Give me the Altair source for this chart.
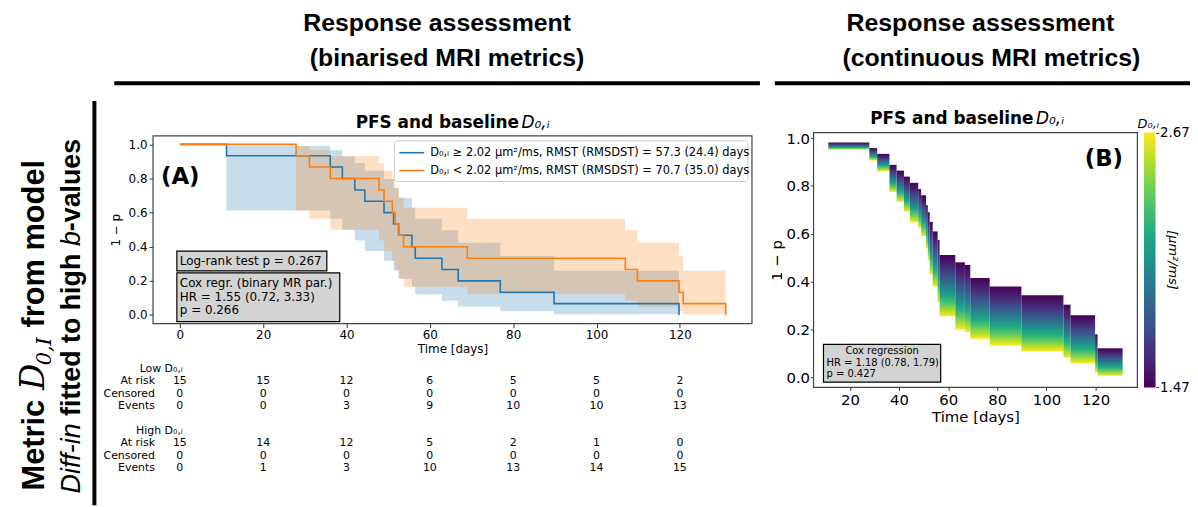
import altair as alt
import pandas as pd

# ------------------------------------------------------------------ data
# Panel A - Kaplan-Meier, high D0,I group (blue)
high_t = [0, 11.2, 36.1, 39.0, 42.0, 44.4, 49.0, 51.3, 52.5, 55.7, 56.5, 62.9, 66.8, 76.9, 89.8, 119.8]
high_s = [1.0, 0.933, 0.867, 0.800, 0.733, 0.667, 0.600, 0.533, 0.467, 0.400, 0.333, 0.267, 0.200, 0.133, 0.067, 0.0]
high_lo = [1.0, 0.613, 0.564, 0.500, 0.436, 0.375, 0.318, 0.263, 0.212, 0.165, 0.122, 0.083, 0.049, 0.022, 0.004]
high_hi = [1.0, 0.990, 0.965, 0.931, 0.891, 0.846, 0.797, 0.744, 0.687, 0.628, 0.564, 0.496, 0.424, 0.346, 0.260]
# low D0,I group (orange)
low_t = [0, 27.9, 31.1, 36.1, 47.8, 49.0, 51.0, 51.7, 52.6, 53.7, 69.0, 106.9, 109.8, 119.8, 120.8, 131.0]
low_s = [1.0, 0.933, 0.867, 0.800, 0.733, 0.667, 0.600, 0.533, 0.467, 0.400, 0.333, 0.267, 0.200, 0.133, 0.067, 0.0]
low_lo = [1.0, 0.613, 0.564, 0.500, 0.436, 0.375, 0.318, 0.263, 0.212, 0.165, 0.122, 0.083, 0.049, 0.022, 0.004]
low_hi = [1.0, 0.990, 0.965, 0.931, 0.891, 0.846, 0.797, 0.744, 0.687, 0.628, 0.564, 0.496, 0.424, 0.346, 0.260]

# risk table
table_t = [0, 20, 40, 60, 80, 100, 120]
low_at_risk = [15, 15, 12, 6, 5, 5, 2]
low_censored = [0, 0, 0, 0, 0, 0, 0]
low_events = [0, 0, 3, 9, 10, 10, 13]
high_at_risk = [15, 14, 12, 5, 2, 1, 0]
high_censored = [0, 0, 0, 0, 0, 0, 0]
high_events = [0, 1, 3, 10, 13, 14, 15]

# Panel B - Cox model survival band (top = D0,I 1.47, bottom = D0,I 2.67)
b_start = [11.2, 27.9, 31.1, 36.1, 39.0, 42.0, 44.4, 47.8, 49.0, 51.0, 51.7, 52.5, 53.7, 55.7,
           56.5, 62.9, 66.8, 69.0, 76.9, 89.8, 106.9, 109.8, 119.8, 120.8]
b_last = 131.0
b_top = [0.981, 0.958, 0.934, 0.888, 0.864, 0.839, 0.813, 0.787, 0.761, 0.719, 0.690, 0.650, 0.610, 0.574,
         0.512, 0.481, 0.470, 0.415, 0.380, 0.343, 0.304, 0.260, 0.180, 0.122]
b_bot = [0.951, 0.906, 0.862, 0.775, 0.734, 0.693, 0.648, 0.625, 0.590, 0.540, 0.490, 0.430, 0.380, 0.314,
         0.256, 0.200, 0.190, 0.162, 0.134, 0.110, 0.083, 0.059, 0.021, 0.007]
cbar_min, cbar_max = 1.47, 2.67

# ------------------------------------------------------------------ layout helpers
W, H = 1182, 491
M = 8


def P(v):
    return v - M


one = pd.DataFrame({"k": [0]})
FONT = "DejaVu Sans"
HEAD = "Liberation Sans"
SERIF = "DejaVu Serif"


def text(s, x, y, size=12, weight="normal", angle=0, align="center", baseline="middle",
         font=FONT, style="normal", color="black"):
    return alt.Chart(one).mark_text(
        text=s, fontSize=size, fontWeight=weight, angle=angle, align=align,
        baseline=baseline, font=font, fontStyle=style, color=color
    ).encode(x=alt.value(P(x)), y=alt.value(P(y)))


def box(x1, y1, x2, y2, fill="white", fill_opacity=1.0, stroke="black", sw=1.0, radius=0):
    return alt.Chart(one).mark_rect(
        fill=fill, fillOpacity=fill_opacity, stroke=stroke, strokeWidth=sw, cornerRadius=radius
    ).encode(x=alt.value(P(x1)), x2=alt.value(P(x2)), y=alt.value(P(y1)), y2=alt.value(P(y2)))


def rule(x1, y1, x2, y2, color="black", sw=4):
    return alt.Chart(one).mark_rule(color=color, strokeWidth=sw).encode(
        x=alt.value(P(x1)), x2=alt.value(P(x2)), y=alt.value(P(y1)), y2=alt.value(P(y2)))


def vrun(s, x, y, size, font=HEAD, style="normal", weight="bold"):
    # rotated (bottom-to-top) run of text starting at y
    return text(s, x, y, size=size, weight=weight, angle=270, align="left",
                baseline="alphabetic", font=font, style=style)


# ------------------------------------------------------------------ scales & axes
xA = alt.Scale(domain=[-6.43, 137.3], range=[P(154), P(757)], nice=False, zero=False)
yA = alt.Scale(domain=[-0.05, 1.05], range=[P(324), P(135)], nice=False, zero=False)
xB = alt.Scale(domain=[5.2, 137.0], range=[P(819), P(1145)], nice=False, zero=False)
yB = alt.Scale(domain=[-0.0415, 1.023], range=[P(388.3), P(131.7)], nice=False, zero=False)
yC = alt.Scale(domain=[cbar_min, cbar_max], range=[P(388.3), P(131.7)], nice=False, zero=False)
yR = alt.Scale(domain=[0, 8], range=[P(369.5), P(469.5)], nice=False, zero=False)

common = dict(grid=False, domain=False, tickColor="#333", labelColor="black", titleColor="black",
              labelFont=FONT, titleFont=FONT, titleFontWeight="normal", labelFlush=False,
              labelOverlap=False)
axAx = alt.Axis(orient="bottom", offset=P(324) - H, values=table_t, format="d", tickSize=4,
                labelFontSize=12, labelPadding=2, title="Time [days]", titleFontSize=12,
                titlePadding=3, **common)
axAy = alt.Axis(orient="left", offset=-P(154), values=[0, 0.2, 0.4, 0.6, 0.8, 1.0], format=".1f",
                tickSize=4, labelFontSize=12, labelPadding=2, title="1 − p", titleFontSize=12,
                titlePadding=6, **common)
axBx = alt.Axis(orient="bottom", offset=P(388.3) - H, values=[20, 40, 60, 80, 100, 120], format="d",
                tickSize=3, labelFontSize=15, labelPadding=2, title="Time [days]", titleFontSize=15,
                titlePadding=2, **common)
axBy = alt.Axis(orient="left", offset=-P(819), values=[0, 0.2, 0.4, 0.6, 0.8, 1.0], format=".1f",
                tickSize=3, labelFontSize=15, labelPadding=1, title="1 − p", titleFontSize=15,
                titlePadding=1, **common)
axC = alt.Axis(orient="right", offset=P(1163.3) - W, values=[cbar_min, cbar_max], format=".2f",
               tickSize=3, labelFontSize=13.5, labelPadding=1, title=None, **common)

# ------------------------------------------------------------------ data frames
def band_df(t, lo, hi):
    n = len(t) - 1
    rows = [{"t": t[i], "lo": lo[i], "hi": hi[i]} for i in range(1, n)]
    rows.append({"t": t[n], "lo": lo[n - 1], "hi": hi[n - 1]})
    return pd.DataFrame(rows)


band_high = band_df(high_t, high_lo, high_hi)
band_low = band_df(low_t, low_lo, low_hi)
line_high = pd.DataFrame({"t": high_t, "s": high_s})
line_low = pd.DataFrame({"t": low_t, "s": low_s})

table_rows = []
for r, vals in [(1, low_at_risk), (2, low_censored), (3, low_events),
                (6, high_at_risk), (7, high_censored), (8, high_events)]:
    for t, v in zip(table_t, vals):
        table_rows.append({"t": t, "row": r, "val": str(v)})
table_df = pd.DataFrame(table_rows)
row_labels = pd.DataFrame({"row": [1, 2, 3, 6, 7, 8],
                           "label": ["At risk", "Censored", "Events"] * 2})
group_labels = pd.DataFrame({"row": [0, 5], "label": ["Low D₀,ᵢ", "High D₀,ᵢ"]})

b_df = pd.DataFrame({"t0": b_start, "t1": b_start[1:] + [b_last], "top": b_top, "bot": b_bot})
cbar_df = pd.DataFrame({"lo": [cbar_min], "hi": [cbar_max]})

viridis = ["#440154", "#482475", "#414487", "#355f8d", "#2a788e", "#21918c",
           "#22a884", "#44bf70", "#7ad151", "#bddf26", "#fde725"]
# inside the band the high-D0,I (yellow) curves are bunched towards the bottom edge
grad_down = alt.Gradient(gradient="linear", x1=0, x2=0, y1=0, y2=1,
                         stops=[alt.GradientStop(color=c, offset=(i / 10) ** 0.75)
                                for i, c in enumerate(viridis)])
grad_up = alt.Gradient(gradient="linear", x1=0, x2=0, y1=0, y2=1,
                       stops=[alt.GradientStop(color=c, offset=i / 10) for i, c in enumerate(viridis[::-1])])

BLUE, ORANGE = "#1f77b4", "#ff7f0e"

# ------------------------------------------------------------------ panel A
a_band_high = alt.Chart(band_high).mark_area(interpolate="step-after", color=BLUE, opacity=0.25,
                                             orient="vertical").encode(
    x=alt.X("t:Q", scale=xA, axis=axAx), y=alt.Y("lo:Q", scale=yA, axis=axAy), y2="hi:Q")
a_band_low = alt.Chart(band_low).mark_area(interpolate="step-after", color=ORANGE, opacity=0.25,
                                           orient="vertical").encode(
    x=alt.X("t:Q", scale=xA, axis=None), y=alt.Y("lo:Q", scale=yA, axis=None), y2="hi:Q")
a_line_high = alt.Chart(line_high).mark_line(interpolate="step-after", color=BLUE, strokeWidth=1.6).encode(
    x=alt.X("t:Q", scale=xA, axis=None), y=alt.Y("s:Q", scale=yA, axis=None))
a_line_low = alt.Chart(line_low).mark_line(interpolate="step-after", color=ORANGE, strokeWidth=1.6).encode(
    x=alt.X("t:Q", scale=xA, axis=None), y=alt.Y("s:Q", scale=yA, axis=None))

a_table = alt.Chart(table_df).mark_text(fontSize=11, font=FONT, color="black").encode(
    x=alt.X("t:Q", scale=xA, axis=None), y=alt.Y("row:Q", scale=yR, axis=None), text="val:N")
a_rowlab = alt.Chart(row_labels).mark_text(fontSize=11, font=FONT, align="right", color="black").encode(
    x=alt.value(P(156)), y=alt.Y("row:Q", scale=yR, axis=None), text="label:N")
a_grplab = alt.Chart(group_labels).mark_text(fontSize=11, font=FONT, align="right", color="black").encode(
    x=alt.value(P(184)), y=alt.Y("row:Q", scale=yR, axis=None), text="label:N")

# ------------------------------------------------------------------ panel B
b_rects = alt.Chart(b_df).mark_rect(fill=grad_down, strokeWidth=0).encode(
    x=alt.X("t0:Q", scale=xB, axis=axBx), x2="t1:Q",
    y=alt.Y("bot:Q", scale=yB, axis=axBy), y2="top:Q")
c_bar = alt.Chart(cbar_df).mark_rect(fill=grad_up, strokeWidth=0).encode(
    x=alt.value(P(1151.7)), x2=alt.value(P(1163.3)),
    y=alt.Y("lo:Q", scale=yC, axis=axC), y2="hi:Q")

layers = [
    # headers
    text("Response assessment", 440, 21, size=25, weight="bold", font=HEAD),
    text("(binarised MRI metrics)", 450, 57, size=25, weight="bold", font=HEAD),
    text("Response assessment", 987, 21, size=25, weight="bold", font=HEAD),
    text("(continuous MRI metrics)", 998, 57, size=25, weight="bold", font=HEAD),
    rule(115, 82, 765, 82),
    rule(780, 82, 1198, 82),
    rule(95, 100, 95, 507),
    # rotated row label, line 1: "Metric D0,I from model"
    vrun("Metric", 44, 492, 31),
    vrun("D", 44, 391, 33, font=SERIF, style="italic", weight="normal"),
    vrun("0,I", 51, 366, 21, font=SERIF, style="italic", weight="normal"),
    vrun("from model", 44, 328, 31),
    # line 2: "Diff-in fitted to high b-values"
    vrun("Diff-in", 80, 495, 27, style="italic", weight="normal"),
    vrun("fitted to high", 80, 417, 27),
    vrun("b", 80, 246, 27, style="italic", weight="normal"),
    vrun("-values", 80, 231, 27),
    # panel A
    a_band_high, a_band_low, a_line_high, a_line_low,
    box(154, 135, 757, 324, fill="white", fill_opacity=0, stroke="#444", sw=1.2),
    text("PFS and baseline", 358, 122, size=17, weight="bold", align="left"),
    text("D₀,ᵢ", 525, 122, size=17, style="italic", align="left"),
    text("(A)", 162, 176, size=23, weight="bold", align="left"),
    box(397, 140, 753, 181, fill="white", fill_opacity=0.8, stroke="#cccccc", sw=1, radius=3),
    rule(402, 152, 427, 152, color=BLUE, sw=1.6),
    rule(402, 170, 427, 170, color=ORANGE, sw=1.6),
    text("D₀,ᵢ ≥ 2.02 μm²/ms, RMST (RMSDST) = 57.3 (24.4) days", 433, 152, size=11.5, align="left"),
    text("D₀,ᵢ < 2.02 μm²/ms, RMST (RMSDST) = 70.7 (35.0) days", 433, 170, size=11.5, align="left"),
    box(178, 251, 329, 271, fill="#d3d3d3", stroke="black", sw=1.2),
    text("Log-rank test p = 0.267", 181, 261, size=12, align="left"),
    box(178, 273, 342, 322, fill="#d3d3d3", stroke="black", sw=1.2),
    text("Cox regr. (binary MR par.)", 181, 283.5, size=12, align="left"),
    text("HR = 1.55 (0.72, 3.33)", 181, 297, size=12, align="left"),
    text("p = 0.266", 181, 310.5, size=12, align="left"),
    a_table, a_rowlab, a_grplab,
    # panel B
    b_rects,
    box(819, 131.7, 1145, 388.3, fill="white", fill_opacity=0, stroke="#444", sw=1.2),
    text("PFS and baseline", 876, 118, size=17, weight="bold", align="left"),
    text("D₀,ᵢ", 1043, 118, size=17, style="italic", align="left"),
    text("(B)", 1092, 158, size=23, weight="bold", align="left"),
    box(829, 345, 947, 383, fill="#d3d3d3", stroke="black", sw=1.2),
    text("Cox regression", 888, 352, size=10),
    text("HR = 1.18 (0.78, 1.79)", 832, 363.5, size=10, align="left"),
    text("p = 0.427", 832, 375, size=10, align="left"),
    c_bar,
    text("D₀,ᵢ", 1156, 123, size=13, style="italic"),
    text("[μm²/ms]", 1181, 260, size=13, angle=90, style="italic"),
]

chart = alt.layer(*layers).resolve_scale(x="independent", y="independent").properties(
    width=W, height=H,
    autosize=alt.AutoSizeParams(type="none"),
    padding={"left": 0, "top": 0, "right": 8, "bottom": 8},
).configure_view(stroke=None)

chart.save("out.html", embed_options={"renderer": "svg", "actions": False})
